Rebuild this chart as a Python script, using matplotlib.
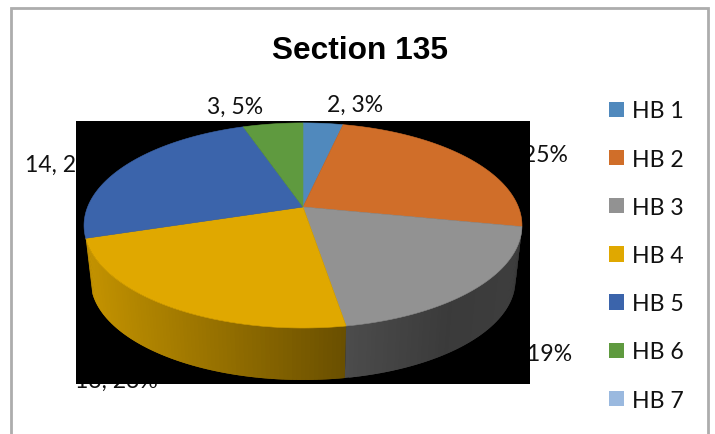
import numpy as np
import matplotlib
matplotlib.use("Agg")
import matplotlib.pyplot as plt
from matplotlib.patches import Polygon, Rectangle
from matplotlib.colors import to_rgb

# ---- data ----
categories = ["HB 1", "HB 2", "HB 3", "HB 4", "HB 5", "HB 6", "HB 7"]
values = [2, 14, 11, 13, 14, 3, 0]
percents = [3, 25, 19, 23, 25, 5, 0]
colors = ["#5089BD", "#D06E29", "#929292", "#E0A800", "#3B64AB", "#5F9A3F", "#9AB9DF"]
title = "Section 135"

# ---- geometry of the perspective pie (pixel space) ----
CX, CY = 303.0, 208.0
A, B, K = 215.4, 99.2, -0.18
LOW_SCALE, LOW_DY = 0.97, 55.6
W, H = 715, 435


def project(theta, lower=False):
    """theta: clockwise degrees from the top of the disc."""
    t = np.radians(theta)
    d = 1 - K * np.cos(t)
    x, y = A * np.sin(t) / d, -B * np.cos(t) / d
    if lower:
        return CX + LOW_SCALE * x, CY + LOW_DY + LOW_SCALE * y
    return CX + x, CY + y


plt.rcParams["font.family"] = ["Lato", "DejaVu Sans"]
fig = plt.figure(figsize=(W / 100, H / 100), dpi=100)
ax = fig.add_axes([0, 0, 1, 1])
ax.set_xlim(0, W)
ax.set_ylim(H, 0)
ax.axis("off")

FS = 16.6

# chart frame
ax.plot([11, 11, 708, 708], [H, 9, 9, H], color="#ADADAD", lw=2, zorder=0.5,
        solid_joinstyle="miter")

ax.text(360, 51, title, ha="center", va="center", fontsize=22.8, fontweight="bold",
        family="Liberation Sans", color="black", zorder=1)

# data labels (partly hidden by the black backing, as in the reference)
label_spots = [
    (355, 105, "center"),
    (568, 155, "right"),
    (572, 354, "right"),
    (75, 381, "left"),
    (25, 165, "left"),
    (235, 107, "center"),
]
for (lx, ly, ha), v, p in zip(label_spots, values, percents):
    ax.text(lx, ly, f"{v}, {p}%", ha=ha, va="center", fontsize=FS, color="#111111", zorder=1)

# black backing
ax.add_patch(Rectangle((76, 122), 454, 263, facecolor="black", edgecolor="none", zorder=2))

fracs = np.array(values, dtype=float) / sum(values)
edges = np.concatenate([[0], np.cumsum(fracs) * 360])


def wall_factor(i, x):
    if i == 3:  # gold wall fades left to right
        return np.interp(x, [88, 346], [0.87, 0.47])
    return np.interp(x, [346, 450, 516], [0.52, 0.40, 0.42])


# side wall: only the two front slices show one; each band overlaps the next
for i in (3, 2):
    a0, a1 = edges[i], edges[i + 1]
    steps = np.linspace(a1, a0, int(a1 - a0) + 2)
    base = np.array(to_rgb(colors[i]))
    for n, (s0, s1) in enumerate(zip(steps[:-1], steps[1:])):
        s_end = steps[min(n + 2, len(steps) - 1)]
        arc = np.linspace(s0, s_end, 5)
        xt, yt = project(arc)
        xb, yb = project(arc, True)
        pts = np.column_stack([np.r_[xt, xb[::-1]], np.r_[yt, yb[::-1]]])
        xm = project((s0 + s1) / 2)[0]
        c = tuple(base * wall_factor(i, xm))
        ax.add_patch(Polygon(pts, closed=True, facecolor=c, edgecolor="none", zorder=3))

# top face
for i, (a0, a1) in enumerate(zip(edges[:-1], edges[1:])):
    if a1 <= a0:
        continue
    th = np.linspace(a0, a1, 100)
    xs, ys = project(th)
    pts = np.column_stack([np.r_[CX, xs], np.r_[CY, ys]])
    ax.add_patch(Polygon(pts, closed=True, facecolor=colors[i], edgecolor=colors[i],
                         lw=0.4, zorder=4))

# legend
handles = [Rectangle((0, 0), 1, 1, facecolor=c, edgecolor="none") for c in colors]
ax.legend(handles, categories, loc="center left", bbox_to_anchor=(600 / W, 1 - 256.5 / H),
          frameon=False, fontsize=FS, handlelength=0.65, handleheight=0.65,
          handletextpad=0.35, labelspacing=1.18, labelcolor="#111111", borderpad=0.4,
          borderaxespad=0)

fig.savefig("out.png", dpi=100)
